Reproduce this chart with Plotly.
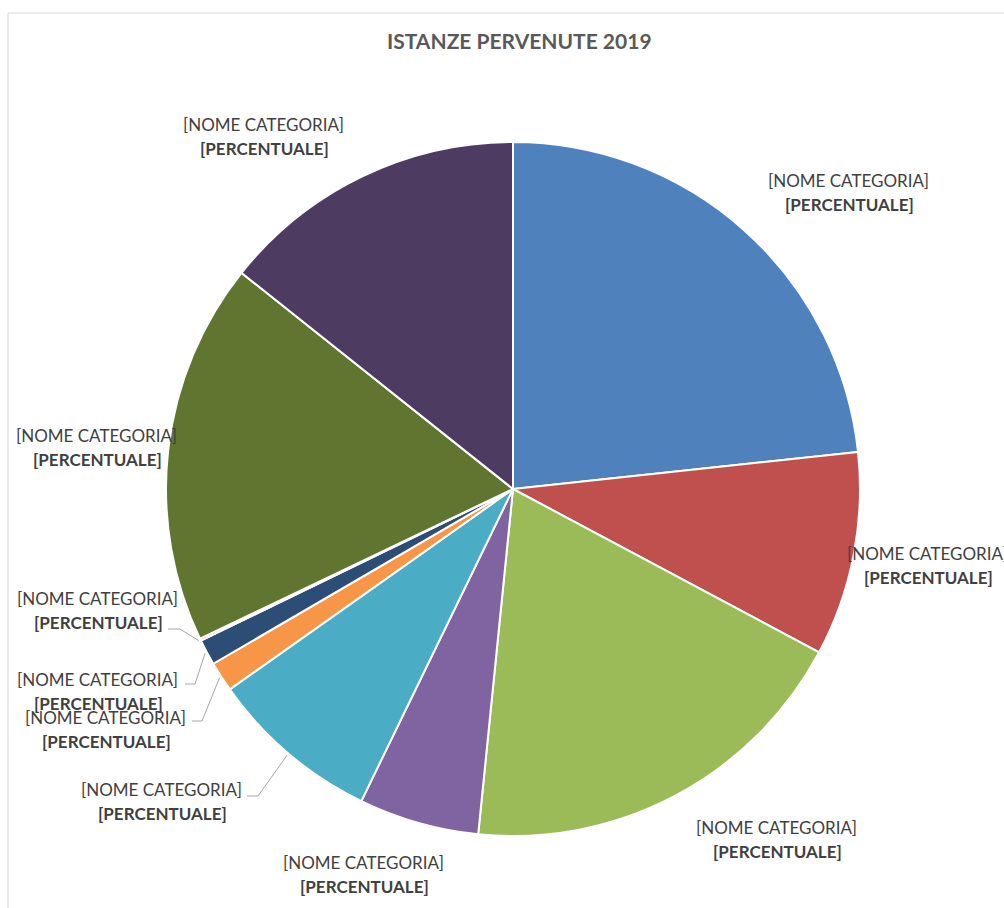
import math
import plotly.graph_objects as go

# Categories and their shares (percent), clockwise from 12 o'clock
categories = ["Cat. 1", "Cat. 2", "Cat. 3", "Cat. 4", "Cat. 5",
              "Cat. 6", "Cat. 7", "Cat. 8", "Cat. 9", "Cat. 10"]
shares = [23.3, 9.5, 18.8, 5.6, 8.0, 1.4, 1.2, 0.1, 17.8, 14.3]
slice_colors = ["#4F81BD", "#C0504D", "#9BBB59", "#8064A2", "#4BACC6",
                "#F79646", "#2C4D75", "#772C2A", "#5F7530", "#4D3B62"]

name_text = "[NOME CATEGORIA]"
value_text = "[PERCENTUALE]"
title_text = "ISTANZE PERVENUTE 2019"

# Canvas geometry (pixels)
W, H = 1004, 908
CX, CY, R = 513, 489, 347

# Label placement per slice: (x centre, y of first line)
label_pos = [(848, 180), (927, 553), (776, 827), (363, 862), (161, 789),
             (105, 717), (97, 679), (97, 598), (96, 435), (263, 124)]
# Leader lines: elbow point and label end for the small slices
leaders = {4: [(258, 796), (247, 796)],
           5: [(202, 721), (192, 721)],
           6: [(195, 684), (185, 684)],
           7: [(180, 629), (168, 629)]}

fig = go.Figure()

fig.add_trace(go.Pie(
    labels=categories,
    values=shares,
    sort=False,
    direction="clockwise",
    rotation=0,
    marker=dict(colors=slice_colors, line=dict(color="white", width=2)),
    textinfo="none",
    hoverinfo="label+percent",
    showlegend=False,
    domain=dict(x=[(CX - R) / W, (CX + R) / W],
                y=[1 - (CY + R) / H, 1 - (CY - R) / H]),
))

# Mid-angle of each slice (degrees clockwise from top)
total = sum(shares)
mids = []
acc = 0.0
for v in shares:
    mids.append((acc + v / 2) / total * 360)
    acc += v

font_main = "Lato, 'Open Sans', sans-serif"
annotations = []
for i, (lx, ly) in enumerate(label_pos):
    annotations.append(dict(x=lx, y=ly, xref="x", yref="y", text=name_text,
                            showarrow=False, xanchor="center", yanchor="middle",
                            font=dict(family=font_main, size=17, color="#404040")))
    annotations.append(dict(x=lx + 1, y=ly + 24, xref="x", yref="y",
                            text="<b>" + value_text + "</b>",
                            showarrow=False, xanchor="center", yanchor="middle",
                            font=dict(family=font_main, size=17, color="#404040")))

annotations.append(dict(x=519, y=40, xref="x", yref="y",
                        text="<b>" + title_text + "</b>", showarrow=False,
                        xanchor="center", yanchor="middle",
                        font=dict(family=font_main, size=21, color="#595959")))

# Leader lines from slice edge to label
for i, pts in leaders.items():
    a = math.radians(mids[i])
    ex = CX + (R + 2) * math.sin(a)
    ey = CY - (R + 2) * math.cos(a)
    xs = [ex] + [p[0] for p in pts]
    ys = [ey] + [p[1] for p in pts]
    fig.add_trace(go.Scatter(x=xs, y=ys, mode="lines",
                             line=dict(color="#A6A6A6", width=1),
                             hoverinfo="skip", showlegend=False))

shapes = [dict(type="rect", xref="x", yref="y", x0=8, y0=13, x1=W + 20, y1=H + 20,
               line=dict(color="#D9D9D9", width=1), fillcolor="rgba(0,0,0,0)",
               layer="below")]

fig.update_layout(
    width=W, height=H,
    margin=dict(l=0, r=0, t=0, b=0),
    paper_bgcolor="white", plot_bgcolor="white",
    xaxis=dict(range=[0, W], domain=[0, 1], visible=False, fixedrange=True),
    yaxis=dict(range=[H, 0], domain=[0, 1], visible=False, fixedrange=True),
    annotations=annotations,
    shapes=shapes,
    showlegend=False,
)

fig.write_html("out.html")
